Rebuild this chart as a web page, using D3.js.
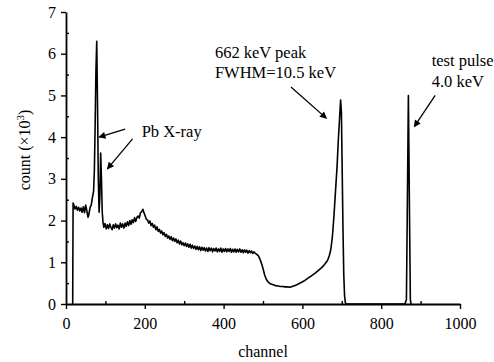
<!DOCTYPE html>
<html>
<head>
<meta charset="utf-8">
<script src="https://cdn.jsdelivr.net/npm/d3@7"></script>
<style>
  body { margin: 0; background: #fff; }
  svg text { font-family: "Liberation Serif", "Times New Roman", serif; fill: #000; }
  .axis path, .axis line { stroke: #000; }
  .axis path { stroke-width: 1.8; }
  .axis line { stroke-width: 1.4; }
</style>
</head>
<body>
<div id="chart"></div>
<script>
// spectrum (count in units of 10^3)
var channels = [
  17, 18, 20, 23, 26, 29, 32, 35, 38, 41, 44, 47, 50, 53, 56, 58, 61, 64, 67, 70,
  72, 74, 76, 78, 80, 82, 84, 86, 88, 90, 92, 94, 96, 99, 102, 105, 108, 111, 114, 117,
  120, 123, 126, 129, 132, 135, 138, 141, 144, 147, 150, 153, 156, 159, 162, 165, 168, 171, 174, 177,
  180, 183, 186, 189, 192, 195, 198, 201, 204, 207, 210, 213, 216, 219, 222, 225, 228, 231, 234, 237,
  240, 243, 246, 249, 252, 255, 258, 261, 264, 267, 270, 273, 276, 279, 282, 285, 288, 291, 294, 297,
  300, 303, 306, 309, 312, 315, 318, 321, 324, 327, 330, 333, 336, 339, 342, 345, 348, 351, 354, 357,
  360, 363, 366, 369, 372, 375, 378, 381, 384, 387, 390, 393, 396, 399, 402, 405, 408, 411, 414, 417,
  420, 423, 426, 429, 432, 435, 438, 441, 444, 447, 450, 453, 456, 459, 462, 465, 468, 471, 474, 477,
  480, 484, 488, 492, 496, 500, 504, 508, 512, 516, 520, 526, 532, 538, 544, 550, 556, 562, 568, 574,
  580, 586, 592, 598, 604, 610, 616, 622, 628, 634, 640, 646, 652, 658, 664, 668, 672, 676, 680, 684,
  688, 691, 694, 697, 699, 701, 703, 705, 707, 709, 712, 860, 864, 866, 868, 869, 870, 872, 874, 876
];
var counts = [
  0, 2.42, 2.37, 2.28, 2.34, 2.25, 2.32, 2.23, 2.30, 2.20, 2.33, 2.19, 2.37, 2.23, 2.08, 2.14, 2.31, 2.37, 2.55, 2.70,
  3.20, 4.30, 5.60, 6.30, 4.80, 3.00, 2.20, 2.60, 3.62, 3.00, 2.20, 1.95, 1.84, 1.93, 1.80, 1.90, 1.81, 1.92, 1.84, 1.78,
  1.90, 1.82, 1.92, 1.83, 1.89, 1.80, 1.94, 1.84, 1.92, 1.82, 1.94, 1.86, 1.97, 1.88, 2.00, 1.91, 2.02, 1.95, 2.07, 1.98,
  2.08, 2.11, 2.06, 2.19, 2.21, 2.27, 2.19, 2.11, 2.03, 2.01, 1.94, 1.99, 1.88, 1.93, 1.84, 1.89, 1.78, 1.85, 1.74, 1.79,
  1.70, 1.75, 1.66, 1.71, 1.62, 1.67, 1.58, 1.63, 1.55, 1.61, 1.52, 1.58, 1.50, 1.56, 1.47, 1.53, 1.44, 1.51, 1.42, 1.47,
  1.40, 1.46, 1.38, 1.44, 1.36, 1.43, 1.34, 1.41, 1.33, 1.39, 1.31, 1.38, 1.30, 1.37, 1.28, 1.36, 1.29, 1.35, 1.27, 1.34,
  1.26, 1.35, 1.28, 1.34, 1.25, 1.33, 1.27, 1.34, 1.25, 1.32, 1.26, 1.34, 1.24, 1.32, 1.26, 1.33, 1.25, 1.32, 1.26, 1.33,
  1.24, 1.31, 1.25, 1.32, 1.24, 1.31, 1.25, 1.32, 1.24, 1.30, 1.23, 1.30, 1.24, 1.29, 1.22, 1.28, 1.23, 1.27, 1.21, 1.25,
  1.22, 1.19, 1.16, 1.08, 0.98, 0.85, 0.70, 0.60, 0.54, 0.50, 0.48, 0.46, 0.44, 0.43, 0.42, 0.42, 0.41, 0.41, 0.40, 0.42,
  0.44, 0.46, 0.49, 0.52, 0.55, 0.59, 0.63, 0.67, 0.71, 0.75, 0.80, 0.85, 0.90, 0.97, 1.05, 1.15, 1.30, 1.60, 2.10, 2.70,
  3.30, 3.90, 4.40, 4.89, 4.60, 3.20, 1.80, 0.70, 0.20, 0.03, 0, 0, 0.10, 2.00, 4.00, 5.00, 4.00, 2.00, 0.10, 0
];

var xTicks = [0, 200, 400, 600, 800, 1000];
var xMinor = [100, 300, 500, 700, 900];
var yTicks = [0, 1, 2, 3, 4, 5, 6, 7];
var yMinor = [0.5, 1.5, 2.5, 3.5, 4.5, 5.5, 6.5];

// annotations: text lines and arrows (arrow given in data units: from -> to)
var notes = [
  { lines: ['662 keV peak', 'FWHM=10.5 keV'], at: [378, 5.9], lh: 20 },
  { lines: ['Pb X-ray'], at: [192, 4.0], lh: 20 },
  { lines: ['test pulse', '4.0 keV'], at: [928, 5.7], lh: 21 }
];
var arrows = [
  [[571, 5.2], [661, 4.45]],
  [[150, 4.19], [84, 4.0]],
  [[169, 3.96], [105, 3.24]],
  [[937, 5.0], [884, 4.25]]
];

var W = 494, H = 362;
var m = { left: 66, top: 12, right: 34, bottom: 58 };
var iw = W - m.left - m.right, ih = H - m.top - m.bottom;
var serif = '"Liberation Serif", "Times New Roman", serif';

var svg = d3.select('#chart').append('svg')
    .attr('width', W)
    .attr('height', H);

svg.append('defs').append('marker')
    .attr('id', 'arr')
    .attr('viewBox', '0 0 10 10')
    .attr('refX', 9).attr('refY', 5)
    .attr('markerWidth', 9).attr('markerHeight', 7)
    .attr('markerUnits', 'userSpaceOnUse')
    .attr('orient', 'auto')
    .append('path')
    .attr('d', 'M0,0 L10,5 L0,10 z')
    .attr('fill', '#000');

var g = svg.append('g').attr('transform', 'translate(' + m.left + ',' + m.top + ')');

var x = d3.scaleLinear().domain([0, 1000]).range([0, iw]);
var y = d3.scaleLinear().domain([0, 7]).range([ih, 0]);

// minor ticks point inward
g.append('g').attr('class', 'axis')
    .attr('transform', 'translate(0,' + ih + ')')
    .call(d3.axisBottom(x).tickValues(xMinor).tickSize(-3).tickFormat(''))
    .select('.domain').remove();
g.append('g').attr('class', 'axis')
    .call(d3.axisLeft(y).tickValues(yMinor).tickSize(-3).tickFormat(''))
    .select('.domain').remove();

var xa = g.append('g').attr('class', 'axis')
    .attr('transform', 'translate(0,' + ih + ')')
    .call(d3.axisBottom(x).tickValues(xTicks).tickFormat(d3.format('d'))
        .tickSize(5).tickSizeOuter(0).tickPadding(9));
xa.attr('font-family', serif).attr('font-size', 16);

var ya = g.append('g').attr('class', 'axis')
    .call(d3.axisLeft(y).tickValues(yTicks).tickFormat(d3.format('d'))
        .tickSize(5).tickSizeOuter(0).tickPadding(5));
ya.attr('font-family', serif).attr('font-size', 16);

// spectrum line
var line = d3.line()
    .x(function(d, i) { return x(channels[i]); })
    .y(function(d) { return y(d); });

g.append('path')
    .datum(counts)
    .attr('d', line)
    .attr('fill', 'none')
    .attr('stroke', '#000')
    .attr('stroke-width', 1.6)
    .attr('stroke-linejoin', 'round');

// axis titles
g.append('text')
    .attr('x', iw / 2)
    .attr('y', ih + 53)
    .attr('text-anchor', 'middle')
    .attr('font-size', 16)
    .text('channel');

var yl = g.append('text')
    .attr('transform', 'translate(' + (-36) + ',' + (ih / 2 - 8) + ') rotate(-90)')
    .attr('text-anchor', 'middle')
    .attr('font-size', 16);
yl.append('tspan').text('count  (\u00d710');
yl.append('tspan').attr('font-size', 11).attr('dy', -6).text('3');
yl.append('tspan').attr('dy', 6).text(')');

// annotations
notes.forEach(function(n) {
    var t = g.append('text')
        .attr('font-size', 16.5);
    n.lines.forEach(function(s, i) {
        t.append('tspan')
            .attr('x', x(n.at[0]))
            .attr('y', y(n.at[1]) + i * n.lh)
            .text(s);
    });
});

g.selectAll('.arrow').data(arrows).enter()
    .append('line')
    .attr('class', 'arrow')
    .attr('x1', function(d) { return x(d[0][0]); })
    .attr('y1', function(d) { return y(d[0][1]); })
    .attr('x2', function(d) { return x(d[1][0]); })
    .attr('y2', function(d) { return y(d[1][1]); })
    .attr('stroke', '#000')
    .attr('stroke-width', 1.3)
    .attr('marker-end', 'url(#arr)');
</script>
</body>
</html>
